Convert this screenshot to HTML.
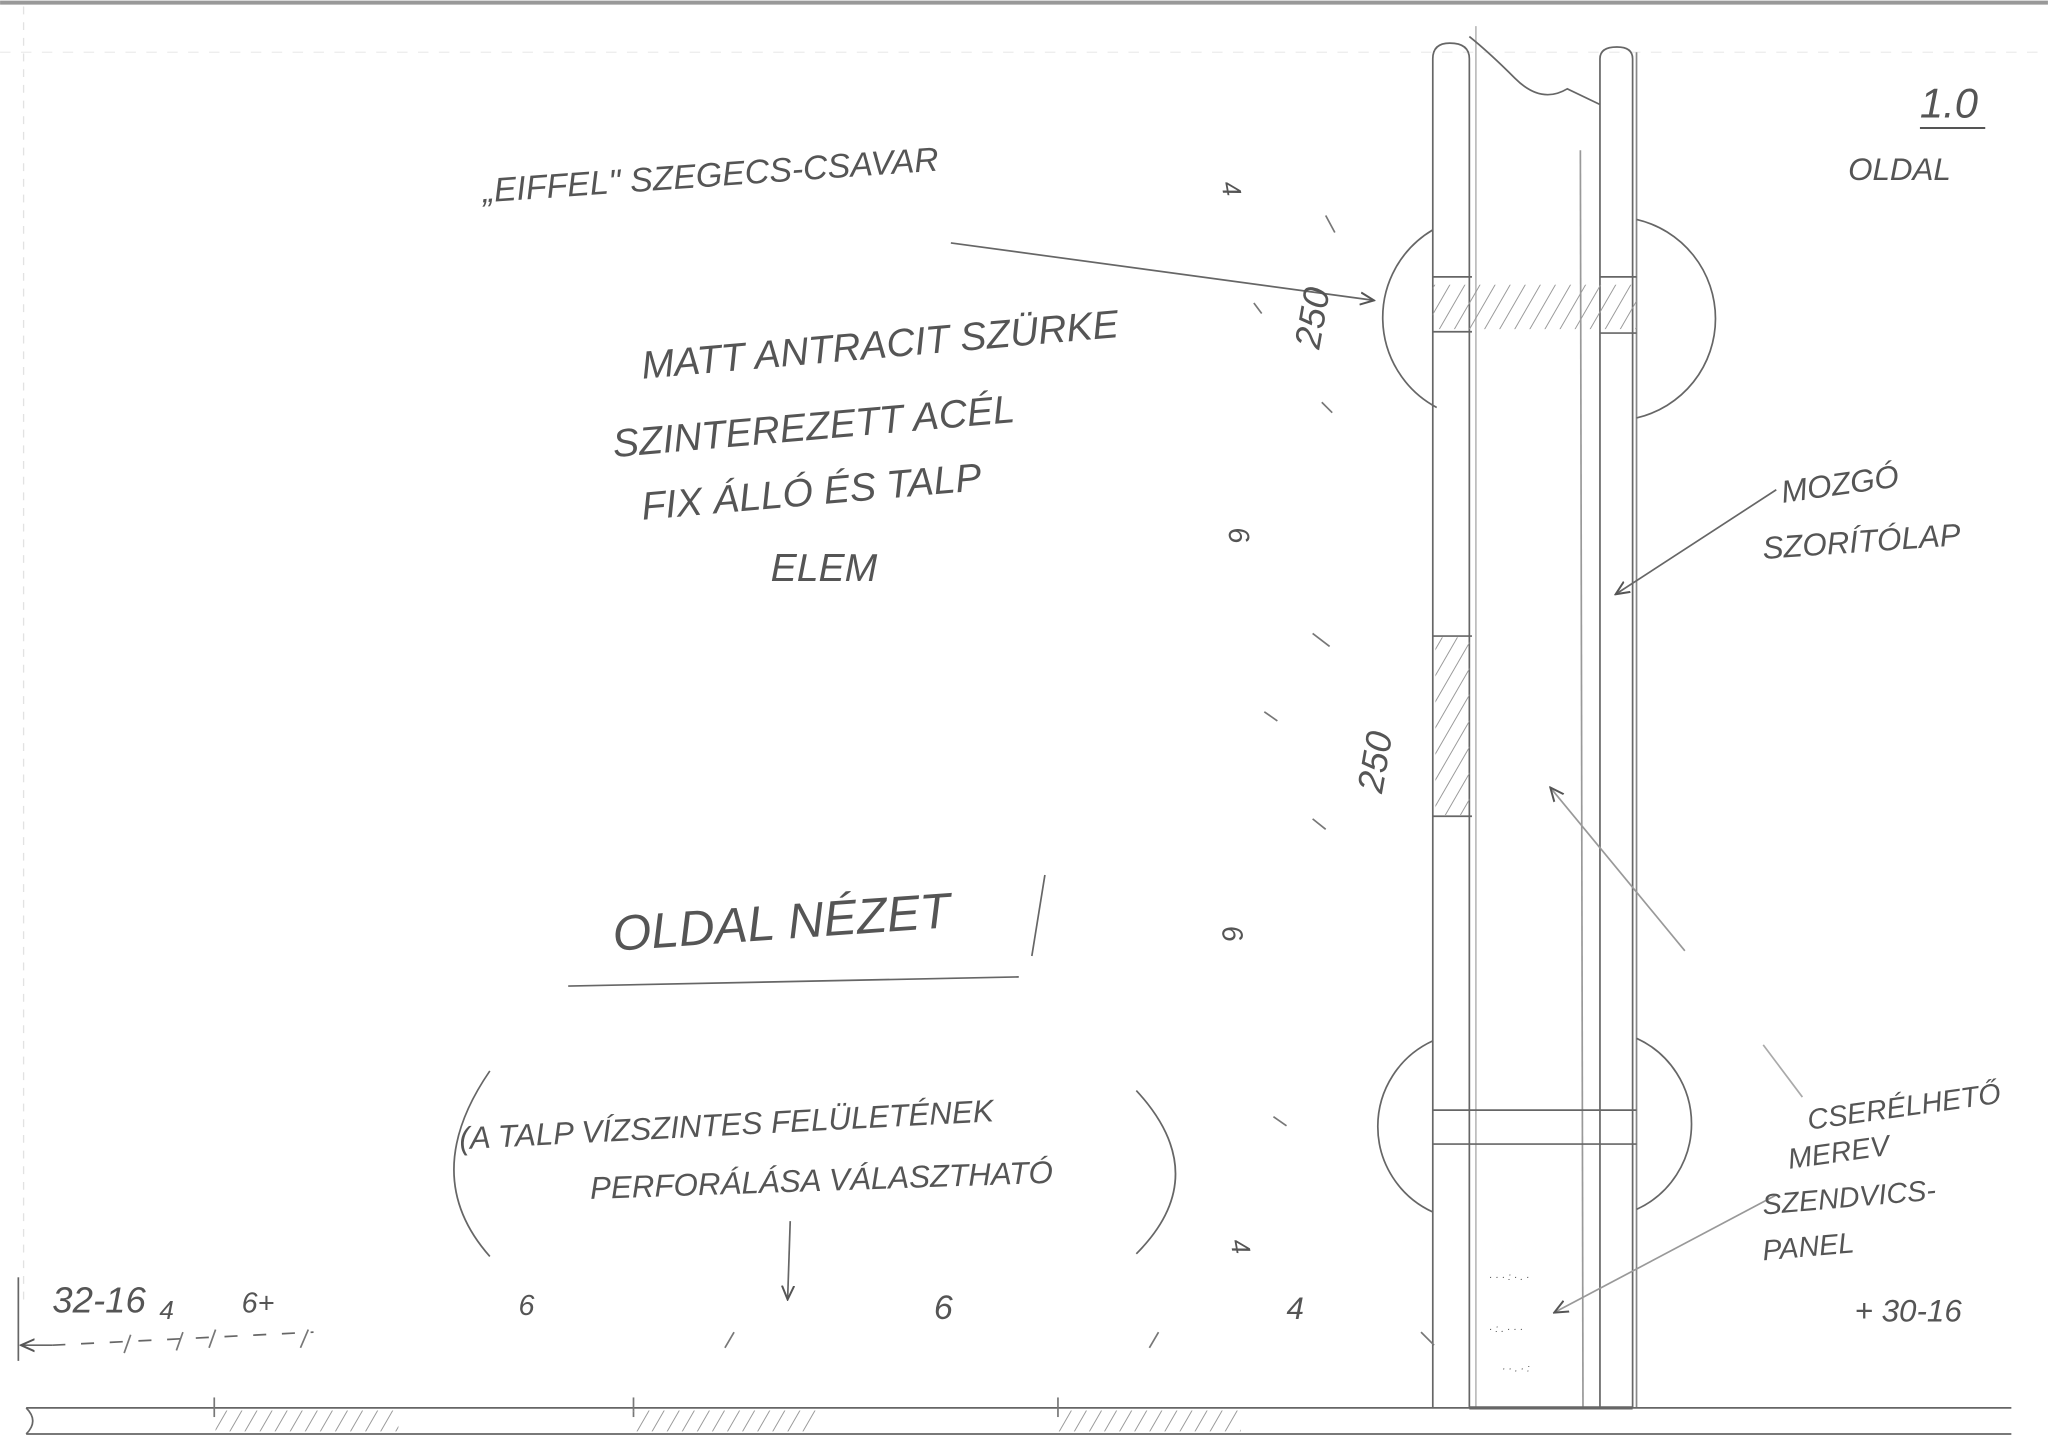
<!DOCTYPE html>
<html><head><meta charset="utf-8"><style>
html,body{margin:0;padding:0;background:#fff;}
svg{display:block;}
text{font-family:"Liberation Sans",sans-serif;fill:#555;font-style:italic;}
</style></head><body>
<svg width="2048" height="1451" viewBox="0 0 1568 1111" xmlns="http://www.w3.org/2000/svg">
<defs>
<pattern id="h" width="10" height="10" patternUnits="userSpaceOnUse" patternTransform="rotate(30)">
<line x1="0" y1="0" x2="0" y2="10" stroke="#999" stroke-width="1.5"/></pattern>
<marker id="a" viewBox="0 0 10 10" refX="9" refY="5" markerWidth="9" markerHeight="9" orient="auto"><path d="M0 1 L9 5 L0 9" fill="none" stroke="#555" stroke-width="1.3"/></marker>
</defs>
<rect width="1568" height="1111" fill="#fff"/>
<line x1="0" y1="2" x2="1568" y2="2" stroke="#999" stroke-width="3"/>
<line x1="18" y1="5" x2="18" y2="1000" stroke="#e2e2e2" stroke-width="1" stroke-dasharray="6 6"/>
<line x1="0" y1="40" x2="1568" y2="40" stroke="#ececec" stroke-width="1" stroke-dasharray="8 8"/>
<g stroke="#666" fill="none" stroke-width="1.3">
<path d="M1097 1078 V45 Q1097 33 1110 33 Q1125 33 1125 45 V1078"/>
<line x1="1130" y1="20" x2="1130" y2="1078" stroke="#bbb"/>
<path d="M1125 28 Q1140 40 1160 60 T1200 68 L1225 80"/>
<line x1="1210" y1="115" x2="1212" y2="1078" stroke="#999"/>
<path d="M1225 1078 V45 Q1225 36 1238 36 Q1250 36 1250 45 V1078"/>
<line x1="1253" y1="40" x2="1253" y2="1078" stroke="#888"/>
<path d="M1097 176 A78 78 0 0 0 1100 312"/>
<path d="M1253 168 A78 78 0 0 1 1253 320"/>
<path d="M1097 797 A72 72 0 0 0 1097 928"/>
<path d="M1253 795 A72 72 0 0 1 1253 926"/>
<line x1="1097" y1="212" x2="1127" y2="212"/><line x1="1225" y1="212" x2="1253" y2="212"/>
<line x1="1097" y1="254" x2="1127" y2="254"/><line x1="1225" y1="255" x2="1253" y2="255"/>
<line x1="1097" y1="850" x2="1253" y2="850"/><line x1="1097" y1="876" x2="1253" y2="876"/>
<line x1="1097" y1="487" x2="1127" y2="487"/><line x1="1097" y1="625" x2="1127" y2="625"/>
<line x1="20" y1="1078" x2="1540" y2="1078"/>
<line x1="20" y1="1098" x2="1540" y2="1098"/>
<path d="M20 1078 Q30 1088 20 1098"/>
<line x1="1125" y1="1078" x2="1250" y2="1078" stroke-width="2.5"/>
<line x1="728" y1="186" x2="1052" y2="230" marker-end="url(#a)"/>
<line x1="1360" y1="375" x2="1237" y2="455" marker-end="url(#a)"/>
<line x1="1290" y1="728" x2="1187" y2="603" stroke="#999" marker-end="url(#a)"/>
<line x1="1350" y1="800" x2="1380" y2="840" stroke="#aaa"/>
<line x1="1360" y1="915" x2="1190" y2="1005" stroke="#999" marker-end="url(#a)"/>
<line x1="605" y1="935" x2="603" y2="995" marker-end="url(#a)"/>
<line x1="435" y1="755" x2="780" y2="748"/>
<line x1="800" y1="670" x2="790" y2="732"/>
<line x1="14" y1="978" x2="14" y2="1042"/>
<line x1="40" y1="1030" x2="16" y2="1030" marker-end="url(#a)"/>
<line x1="40" y1="1030" x2="240" y2="1020" stroke-dasharray="10 12"/>
<path d="M375 820 Q320 900 375 962"/><path d="M870 835 Q930 900 870 960"/>
<g stroke="#777">
<line x1="1015" y1="165" x2="1022" y2="178"/><line x1="960" y1="232" x2="966" y2="240"/><line x1="1012" y1="308" x2="1020" y2="316"/>
<line x1="1005" y1="485" x2="1018" y2="495"/><line x1="968" y1="545" x2="978" y2="552"/><line x1="1005" y1="627" x2="1015" y2="635"/>
<line x1="975" y1="855" x2="985" y2="862"/><line x1="1088" y1="1020" x2="1098" y2="1030"/>
<line x1="95" y1="1036" x2="100" y2="1022"/><line x1="135" y1="1034" x2="140" y2="1020"/><line x1="160" y1="1032" x2="165" y2="1018"/><line x1="230" y1="1032" x2="236" y2="1018"/>
<line x1="555" y1="1032" x2="562" y2="1020"/><line x1="880" y1="1032" x2="887" y2="1020"/>
<line x1="164" y1="1070" x2="164" y2="1085"/><line x1="485" y1="1070" x2="485" y2="1085"/><line x1="810" y1="1070" x2="810" y2="1085"/>
</g>
</g>
<g fill="url(#h)">
<rect x="1097" y="218" width="156" height="34"/>
<rect x="1099" y="488" width="26" height="136"/>
<rect x="165" y="1080" width="140" height="16"/>
<rect x="485" y="1080" width="140" height="16"/>
<rect x="810" y="1080" width="140" height="16"/>
</g>
<g fill="#999" font-size="8"><text x="1140" y="980">· · · : · . ·</text><text x="1140" y="1020">· : . · · ·</text><text x="1150" y="1050">· · . · :</text></g>
<text x="370" y="155" font-size="26" transform="rotate(-4 370 155)">„EIFFEL" SZEGECS-CSAVAR</text>
<text x="492" y="290" font-size="30" transform="rotate(-5 492 290)">MATT ANTRACIT SZÜRKE</text>
<text x="470" y="350" font-size="30" transform="rotate(-5 470 350)">SZINTEREZETT ACÉL</text>
<text x="492" y="398" font-size="30" transform="rotate(-5 492 398)">FIX ÁLLÓ ÉS TALP</text>
<text x="590" y="445" font-size="30">ELEM</text>
<text x="470" y="728" font-size="38" transform="rotate(-4 470 728)">OLDAL NÉZET</text>
<text x="352" y="880" font-size="24" transform="rotate(-3 352 880)">(A TALP VÍZSZINTES FELÜLETÉNEK</text>
<text x="452" y="918" font-size="24" transform="rotate(-2 452 918)">PERFORÁLÁSA VÁLASZTHATÓ</text>
<text x="1470" y="90" font-size="32">1.0</text>
<line x1="1470" y1="98" x2="1520" y2="98" stroke="#555" stroke-width="1.5"/>
<text x="1415" y="138" font-size="24">OLDAL</text>
<text x="1365" y="385" font-size="24" transform="rotate(-8 1365 385)">MOZGÓ</text>
<text x="1350" y="428" font-size="24" transform="rotate(-4 1350 428)">SZORÍTÓLAP</text>
<text x="1385" y="865" font-size="22" transform="rotate(-8 1385 865)">CSERÉLHETŐ</text>
<text x="1370" y="895" font-size="22" transform="rotate(-8 1370 895)">MEREV</text>
<text x="1350" y="930" font-size="22" transform="rotate(-5 1350 930)">SZENDVICS-</text>
<text x="1350" y="965" font-size="22" transform="rotate(-5 1350 965)">PANEL</text>
<text x="1420" y="1012" font-size="24">+ 30-16</text>
<text x="40" y="1005" font-size="28">32-16</text>
<text x="122" y="1010" font-size="20">4</text>
<text x="185" y="1005" font-size="22">6+</text>
<text x="397" y="1007" font-size="22">6</text>
<text x="715" y="1010" font-size="26">6</text>
<text x="985" y="1010" font-size="24">4</text>
<text x="940" y="405" font-size="22" transform="rotate(80 940 405)">6</text>
<text x="935" y="710" font-size="22" transform="rotate(80 935 710)">6</text>
<text x="1010" y="268" font-size="28" transform="rotate(-80 1010 268)">250</text>
<text x="1058" y="608" font-size="28" transform="rotate(-80 1058 608)">250</text>
<text x="935" y="140" font-size="20" transform="rotate(80 935 140)">4</text>
<text x="942" y="950" font-size="20" transform="rotate(80 942 950)">4</text>
</svg>
</body></html>
